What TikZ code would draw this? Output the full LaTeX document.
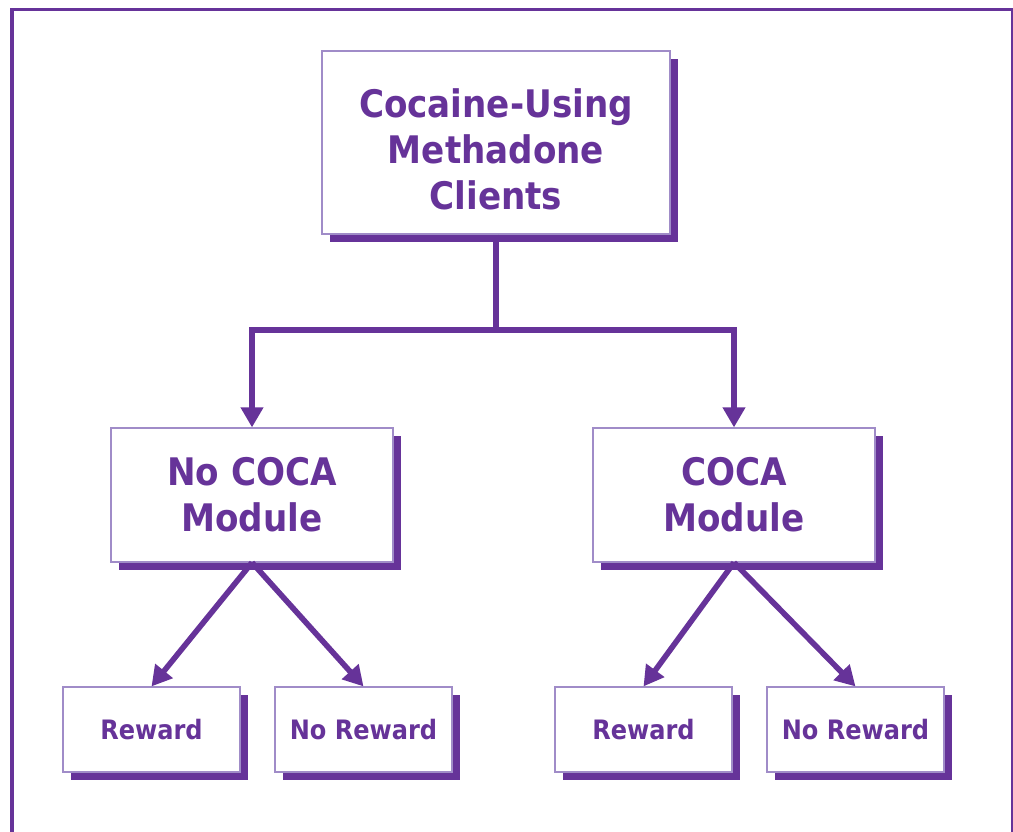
\documentclass[tikz,border=0pt]{standalone}
\usepackage{fontspec}
\setsansfont{DejaVu Sans Condensed}
\usepackage{tikz}
\usetikzlibrary{positioning,arrows.meta,shadows}
\definecolor{cocapurple}{HTML}{663399}
\definecolor{edgepurple}{HTML}{A08CC8}

\begin{document}
\begin{tikzpicture}[x=0.025cm, y=-0.025cm, ->, >={Triangle[length=0.5cm,width=0.54cm]},
		line width=0.14cm, color=cocapurple,
		box/.style={draw=edgepurple, line width=0.8pt, fill=white, align=center, text=cocapurple, inner sep=0pt,
			drop shadow={shadow xshift=0.2cm, shadow yshift=-0.19cm, fill=cocapurple, opacity=1}},
		bigbox/.style={box, minimum width=8.7cm, minimum height=4.575cm, font=\sffamily\bfseries\fontsize{27}{32.7}\selectfont},
		midbox/.style={box, minimum width=7.05cm, minimum height=3.35cm, font=\sffamily\bfseries\fontsize{27}{32.7}\selectfont},
		smallbox/.style={box, minimum width=4.425cm, minimum height=2.125cm, font=\sffamily\bfseries\fontsize{19}{23}\selectfont}]
			\useasboundingbox (0,0) rectangle (1013,831);
			\draw[-, line width=0.075cm] (12,840) -- (12,9.5) -- (1012,9.5) -- (1012,840);

			\node[bigbox] (clients) at (496,142.5) {\rule{0pt}{30.5pt}Cocaine-Using\\Methadone\\Clients};
			\node[midbox] (nococa) at (252,495) {No COCA\\Module};
			\node[midbox] (coca) at (734,495) {COCA\\Module};
			\node[smallbox] (nococareward) at (151.5,729.5) {Reward};
			\node[smallbox] (nococanoreward) at (363.5,729.5) {No Reward};
			\node[smallbox] (cocareward) at (643.5,729.5) {Reward};
			\node[smallbox] (cocanoreward) at (855.5,729.5) {No Reward};
			\coordinate (split) at (496,330);

			\draw[-] (clients.south) -- (split);
			\draw (split) -| (nococa.north);
			\draw (split) -| (coca.north);
			\path
			(nococa.south) edge (nococareward.north)
			(nococa.south) edge (nococanoreward.north)
			(coca.south) edge (cocareward.north)
			(coca.south) edge (cocanoreward.north);
		\end{tikzpicture}
\end{document}
